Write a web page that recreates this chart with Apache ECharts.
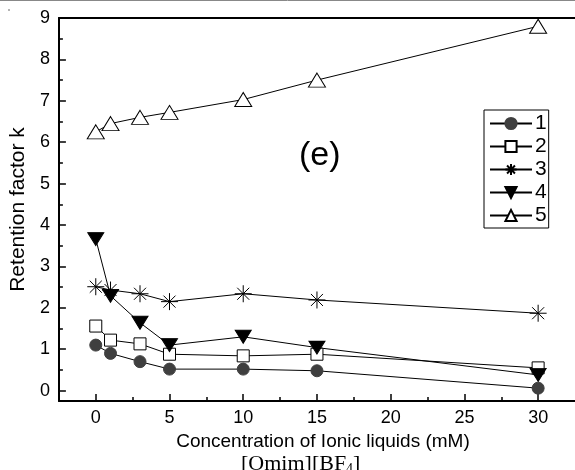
<!DOCTYPE html>
<html><head><meta charset="utf-8">
<script src="https://cdn.jsdelivr.net/npm/echarts@6/dist/echarts.min.js"></script>
<style>html,body{margin:0;padding:0;background:#fff}#c{width:575px;height:470px}</style>
</head><body><div id="c"></div>
<script>
const conc = [0, 1, 3, 5, 10, 15, 30];
const s1 = [1.10, 0.90, 0.70, 0.52, 0.52, 0.48, 0.06];
const s2 = [1.56, 1.22, 1.13, 0.88, 0.84, 0.88, 0.55];
const s3 = [2.51, 2.43, 2.34, 2.15, 2.34, 2.19, 1.87];
const s4 = [3.66, 2.29, 1.64, 1.10, 1.30, 1.04, 0.38];
const s5 = [6.25, 6.45, 6.60, 6.72, 7.03, 7.50, 8.80];
const seriesNames = ['1', '2', '3', '4', '5'];
const xTicks = [0, 5, 10, 15, 20, 25, 30];
const xMinorTicks = [2.5, 7.5, 12.5, 17.5, 22.5, 27.5];
const yTicks = [0, 1, 2, 3, 4, 5, 6, 7, 8, 9];
const yMinorTicks = [0.5, 1.5, 2.5, 3.5, 4.5, 5.5, 6.5, 7.5, 8.5];

const FONT = '"Liberation Sans", Arial, sans-serif';
const pair = ys => conc.map((x, i) => [x, ys[i]]);
const asterisk = 'path://M0,-10L0,10M-10,0L10,0M-7.07,-7.07L7.07,7.07M-7.07,7.07L7.07,-7.07';

const base = {type: 'line', lineStyle: {color: '#000', width: 1}, emphasis: {disabled: true}, z: 3};
const chart = echarts.init(document.getElementById('c'));
chart.setOption({
  animation: false,
  textStyle: {fontFamily: FONT, color: '#000'},
  grid: {left: 58, right: -3, top: 18, bottom: 69, containLabel: false},
  legend: {
    orient: 'vertical', left: 484, top: 110,
    padding: [3, 2, 2, 5], itemGap: 2, itemWidth: 42, itemHeight: 14,
    borderColor: '#000', borderWidth: 1, backgroundColor: '#fff',
    textStyle: {fontFamily: FONT, fontSize: 21, lineHeight: 21, color: '#000', padding: [0, 0, 0, -2]},
    data: seriesNames
  },
  xAxis: [
    {type: 'value', min: -2.5, max: 32.5, position: 'bottom',
     axisLine: {show: true, onZero: false, lineStyle: {color: '#000', width: 2}},
     axisTick: {show: true, inside: true, length: 7, customValues: xTicks, lineStyle: {color: '#000', width: 1.5}},
     axisLabel: {customValues: xTicks, fontSize: 18, color: '#000', margin: 8, fontFamily: FONT},
     splitLine: {show: false},
     name: 'Concentration of Ionic liquids (mM)', nameLocation: 'middle', nameGap: 30,
     nameTextStyle: {fontSize: 19, color: '#000', fontFamily: FONT, padding: [0, 0, 0, 12]}},
    {type: 'value', min: -2.5, max: 32.5, position: 'bottom',
     axisLine: {show: false, onZero: false},
     axisTick: {show: true, inside: true, length: 4, customValues: xMinorTicks, lineStyle: {color: '#000', width: 1.5}},
     axisLabel: {show: false}, splitLine: {show: false}},
    {type: 'value', min: -2.5, max: 32.5, position: 'top',
     axisLine: {show: true, onZero: false, lineStyle: {color: '#000', width: 2}},
     axisTick: {show: false}, axisLabel: {show: false}, splitLine: {show: false}}
  ],
  yAxis: [
    {type: 'value', min: -0.25, max: 9, position: 'left',
     axisLine: {show: true, onZero: false, lineStyle: {color: '#000', width: 2}},
     axisTick: {show: true, inside: true, length: 7, customValues: yTicks, lineStyle: {color: '#000', width: 1.5}},
     axisLabel: {customValues: yTicks, fontSize: 18, color: '#000', margin: 9, fontFamily: FONT},
     splitLine: {show: false},
     name: 'Retention factor k', nameLocation: 'middle', nameGap: 27, nameRotate: 90,
     nameTextStyle: {fontSize: 21, color: '#000', fontFamily: FONT}},
    {type: 'value', min: -0.25, max: 9, position: 'left',
     axisLine: {show: false, onZero: false},
     axisTick: {show: true, inside: true, length: 4, customValues: yMinorTicks, lineStyle: {color: '#000', width: 1.5}},
     axisLabel: {show: false}, splitLine: {show: false}}
  ],
  series: [
    Object.assign({}, base, {name: seriesNames[0], data: pair(s1), symbol: 'circle', symbolSize: 12,
      itemStyle: {color: '#3f3f3f', borderColor: '#3f3f3f', borderWidth: 1}}),
    Object.assign({}, base, {name: seriesNames[1], data: pair(s2), symbol: 'rect', symbolSize: 12,
      itemStyle: {color: '#fff', borderColor: '#000', borderWidth: 1}}),
    Object.assign({}, base, {name: seriesNames[2], data: pair(s3), symbol: asterisk, symbolSize: 17,
      itemStyle: {color: 'rgba(0,0,0,0)', borderColor: '#000', borderWidth: 1}}),
    Object.assign({}, base, {name: seriesNames[3], data: pair(s4), symbol: 'triangle', symbolRotate: 180, symbolSize: [16, 13],
      itemStyle: {color: '#000', borderColor: '#000', borderWidth: 1}}),
    Object.assign({}, base, {name: seriesNames[4], data: pair(s5), symbol: 'triangle', symbolSize: [17, 14],
      itemStyle: {color: '#fff', borderColor: '#000', borderWidth: 1}})
  ],
  graphic: [
    {type: 'line', shape: {x1: 0, y1: 0.5, x2: 575, y2: 0.5}, style: {stroke: '#888', lineWidth: 1}},
    {type: 'circle', shape: {cx: 9, cy: 10, r: 0.8}, style: {fill: '#555'}},
    {type: 'text', left: 299, top: 139, style: {text: '(e)', fontSize: 34, fontFamily: FONT, fill: '#000'}},
    {type: 'text', left: 241, top: 453, style: {
      text: '[Omim][BF{s|4}]', fontSize: 22, fontFamily: '"Liberation Serif", "Times New Roman", serif', fill: '#000',
      rich: {s: {fontSize: 14, fontFamily: '"Liberation Serif", serif', verticalAlign: 'bottom', padding: [10, 0, 0, 0]}}}}
  ]
});
</script></body></html>
